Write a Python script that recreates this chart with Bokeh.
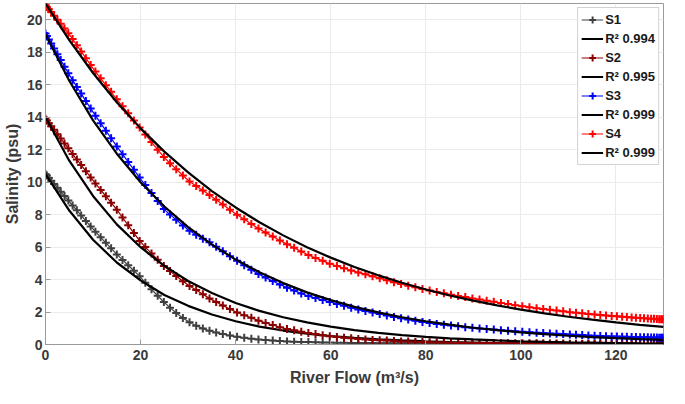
from bokeh.plotting import figure
from bokeh.models import Legend, LegendItem, Range1d, FixedTicker
from bokeh.embed import file_html
from bokeh.resources import INLINE

# ---------------- data ----------------
flow = [0, 0.3, 0.7, 1.2, 1.8, 2.5, 3.2, 4.0, 4.8, 5.7,
        6.6, 7.5, 8.5, 9.5, 10.5, 11.6, 12.7, 13.8, 15.0, 16.2,
        17.4, 18.6, 19.8, 21.0, 22.3, 23.6, 24.9, 26.2, 27.5, 28.9,
        30.3, 31.7, 33.1, 34.5, 35.9, 37.3, 38.8, 40.3, 41.8, 43.3,
        44.8, 46.3, 47.8, 49.3, 50.8, 52.3, 53.8, 55.3, 56.8, 58.3,
        59.8, 61.3, 62.8, 64.3, 65.8, 67.3, 68.8, 70.3, 71.8, 73.3,
        74.8, 76.3, 77.8, 79.3, 80.8, 82.3, 83.8, 85.3, 86.8, 88.3,
        89.8, 91.3, 92.8, 94.3, 95.8, 97.3, 98.8, 100.3, 101.8, 103.3,
        104.7, 106.1, 107.5, 108.9, 110.3, 111.6, 112.9, 114.2, 115.5, 116.7,
        117.9, 119.1, 120.2, 121.3, 122.3, 123.3, 124.2, 125.1, 125.9, 126.7,
        127.4, 128.0, 128.6, 129.1, 129.5, 129.8, 130.0]

s1 = [10.5, 10.4, 10.26, 10.09, 9.89, 9.65, 9.41, 9.14, 8.87, 8.56,
      8.26, 7.95, 7.61, 7.27, 6.95, 6.6, 6.26, 5.92, 5.55, 5.21,
      4.88, 4.54, 4.21, 3.8, 3.4, 3.0, 2.62, 2.27, 1.94, 1.63,
      1.37, 1.16, 0.98, 0.84, 0.74, 0.64, 0.55, 0.47, 0.41, 0.36,
      0.31, 0.27, 0.24, 0.21, 0.19, 0.17, 0.16, 0.15, 0.14, 0.13,
      0.12, 0.11, 0.11, 0.1, 0.1, 0.09, 0.09, 0.08, 0.08, 0.08,
      0.07, 0.07, 0.07, 0.06, 0.06, 0.06, 0.06, 0.05, 0.05, 0.05,
      0.05, 0.05, 0.05, 0.04, 0.04, 0.04, 0.04, 0.04, 0.04, 0.04,
      0.04, 0.04, 0.03, 0.03, 0.03, 0.03, 0.03, 0.03, 0.03, 0.03,
      0.03, 0.03, 0.03, 0.02, 0.02, 0.02, 0.02, 0.02, 0.02, 0.02,
      0.02, 0.02, 0.02, 0.02, 0.02, 0.02, 0.02]

s2 = [13.9, 13.79, 13.63, 13.44, 13.22, 12.95, 12.68, 12.38, 12.08, 11.73,
      11.39, 11.05, 10.67, 10.29, 9.92, 9.52, 9.13, 8.73, 8.3, 7.82,
      7.34, 6.86, 6.38, 6.0, 5.61, 5.22, 4.83, 4.52, 4.22, 3.9,
      3.6, 3.35, 3.09, 2.84, 2.62, 2.4, 2.18, 1.97, 1.8, 1.64,
      1.47, 1.33, 1.2, 1.06, 0.96, 0.87, 0.79, 0.71, 0.64, 0.57,
      0.51, 0.46, 0.42, 0.38, 0.34, 0.31, 0.28, 0.26, 0.24, 0.21,
      0.19, 0.18, 0.16, 0.15, 0.14, 0.13, 0.12, 0.11, 0.1, 0.1,
      0.09, 0.09, 0.09, 0.08, 0.08, 0.08, 0.07, 0.07, 0.07, 0.07,
      0.06, 0.06, 0.06, 0.06, 0.05, 0.05, 0.05, 0.05, 0.05, 0.05,
      0.04, 0.04, 0.04, 0.04, 0.04, 0.04, 0.04, 0.03, 0.03, 0.03,
      0.03, 0.03, 0.03, 0.03, 0.03, 0.03, 0.03]

s3 = [19.15, 19.0, 18.79, 18.54, 18.23, 17.88, 17.52, 17.11, 16.7, 16.28,
      15.86, 15.45, 14.99, 14.53, 14.09, 13.63, 13.17, 12.7, 12.2, 11.72,
      11.24, 10.76, 10.28, 9.82, 9.33, 8.83, 8.34, 8.0, 7.68, 7.33,
      7.0, 6.76, 6.52, 6.29, 6.02, 5.74, 5.44, 5.15, 4.88, 4.61,
      4.34, 4.12, 3.91, 3.7, 3.5, 3.32, 3.14, 2.98, 2.86, 2.74,
      2.62, 2.5, 2.38, 2.26, 2.15, 2.06, 1.97, 1.88, 1.79, 1.7,
      1.61, 1.54, 1.46, 1.39, 1.32, 1.27, 1.22, 1.17, 1.12, 1.07,
      1.03, 0.99, 0.95, 0.92, 0.88, 0.85, 0.82, 0.78, 0.76, 0.73,
      0.71, 0.68, 0.66, 0.64, 0.62, 0.6, 0.58, 0.56, 0.54, 0.53,
      0.51, 0.5, 0.49, 0.48, 0.47, 0.46, 0.46, 0.45, 0.44, 0.44,
      0.43, 0.43, 0.43, 0.42, 0.42, 0.42, 0.42]

s4 = [20.9, 20.79, 20.65, 20.47, 20.25, 20.0, 19.75, 19.46, 19.17, 18.81,
      18.43, 18.05, 17.63, 17.21, 16.81, 16.39, 15.97, 15.56, 15.1, 14.67,
      14.24, 13.8, 13.37, 12.94, 12.47, 12.0, 11.54, 11.16, 10.8, 10.41,
      10.04, 9.76, 9.48, 9.2, 8.91, 8.62, 8.3, 7.99, 7.71, 7.42,
      7.14, 6.89, 6.65, 6.41, 6.18, 5.96, 5.73, 5.51, 5.33, 5.15,
      4.97, 4.83, 4.7, 4.56, 4.44, 4.32, 4.2, 4.08, 3.96, 3.84,
      3.72, 3.62, 3.52, 3.42, 3.33, 3.24, 3.15, 3.07, 2.99, 2.92,
      2.84, 2.77, 2.7, 2.63, 2.56, 2.49, 2.42, 2.36, 2.3, 2.24,
      2.19, 2.14, 2.09, 2.04, 1.99, 1.96, 1.92, 1.88, 1.85, 1.82,
      1.79, 1.76, 1.74, 1.71, 1.69, 1.67, 1.65, 1.63, 1.62, 1.6,
      1.59, 1.58, 1.57, 1.56, 1.56, 1.55, 1.55]

fit_flow = [0, 5, 10, 15, 20, 25, 30, 35, 40, 45, 50, 55, 60, 65,
            70, 75, 80, 85, 90, 95, 100, 105, 110, 115, 120, 125, 130]
fit1 = [10.5, 8.25, 6.45, 5.05, 3.95, 3.05, 2.38, 1.85, 1.43, 1.1, 0.86, 0.67, 0.52, 0.41,
        0.32, 0.25, 0.19, 0.15, 0.12, 0.09, 0.07, 0.055, 0.043, 0.033, 0.026, 0.02, 0.016]
fit2 = [14.0, 11.32, 9.15, 7.4, 5.99, 4.84, 3.91, 3.17, 2.56, 2.07, 1.68, 1.36, 1.1, 0.89,
        0.72, 0.58, 0.47, 0.38, 0.31, 0.25, 0.2, 0.16, 0.13, 0.11, 0.09, 0.07, 0.06]
fit3 = [19.1, 16.24, 13.8, 11.75, 9.99, 8.5, 7.23, 6.15, 5.23, 4.45, 3.78, 3.21, 2.73, 2.32,
        1.98, 1.68, 1.43, 1.22, 1.03, 0.88, 0.75, 0.64, 0.54, 0.46, 0.39, 0.33, 0.28]
fit4 = [21.0, 18.74, 16.72, 14.92, 13.31, 11.88, 10.6, 9.45, 8.44, 7.53, 6.72, 5.99, 5.35, 4.77,
        4.26, 3.8, 3.39, 3.02, 2.7, 2.41, 2.15, 1.92, 1.71, 1.53, 1.36, 1.21, 1.08]

series_names = ["S1", "S2", "S3", "S4"]
r2_labels = ["R\u00b2 0.994", "R\u00b2 0.995", "R\u00b2 0.999", "R\u00b2 0.999"]
series_colors = ["#404040", "#8b0000", "#0000ff", "#ff0000"]

x_ticks = [0, 20, 40, 60, 80, 100, 120]
y_ticks = [0, 2, 4, 6, 8, 10, 12, 14, 16, 18, 20]

# ---------------- figure ----------------
FONT = "Liberation Sans"
AX = "#9a9a9a"
TXT = "#3a3a3a"

p = figure(width=669, height=388, output_backend="svg", toolbar_location=None,
           x_range=Range1d(0, 130), y_range=Range1d(0, 21),
           min_border_left=30, min_border_right=6, min_border_top=3, min_border_bottom=40)
p.background_fill_color = "white"
p.border_fill_color = "white"
p.outline_line_color = AX
p.outline_line_width = 1

for ax in (p.xaxis[0], p.yaxis[0]):
    ax.axis_line_color = AX
    ax.major_tick_line_color = AX
    ax.major_tick_in = 5
    ax.major_tick_out = 0
    ax.minor_tick_line_color = None
    ax.major_label_text_font = FONT
    ax.major_label_text_font_style = "bold"
    ax.major_label_text_font_size = "14px"
    ax.major_label_text_color = TXT
    ax.axis_label_text_font = FONT
    ax.axis_label_text_font_style = "bold"
    ax.axis_label_text_font_size = "16px"
    ax.axis_label_text_color = TXT

p.xaxis[0].ticker = FixedTicker(ticks=x_ticks)
p.yaxis[0].ticker = FixedTicker(ticks=y_ticks)
p.xaxis[0].axis_label = "River Flow (m\u00b3/s)"
p.yaxis[0].axis_label = "Salinity (psu)"
p.xaxis[0].major_label_standoff = 5
p.yaxis[0].major_label_standoff = 3
p.xaxis[0].axis_label_standoff = 6
p.yaxis[0].axis_label_standoff = 3

p.xgrid.ticker = FixedTicker(ticks=x_ticks)
p.ygrid.ticker = FixedTicker(ticks=y_ticks)
p.xgrid.grid_line_color = "#ebebeb"
p.ygrid.grid_line_color = "#ebebeb"

data_sets = [s1, s2, s3, s4]
fit_sets = [fit1, fit2, fit3, fit4]
items = []
for name, r2, col, ys, fys in zip(series_names, r2_labels, series_colors, data_sets, fit_sets):
    ln = p.line(flow, ys, line_color=col, line_width=1.2)
    sc = p.scatter(flow, ys, marker="cross", size=8, line_color=col, line_width=2.0)
    ft = p.line(fit_flow, fys, line_color="black", line_width=2.2)
    items.append(LegendItem(label=name, renderers=[ln, sc]))
    items.append(LegendItem(label=r2, renderers=[ft]))

legend = Legend(items=items, location="top_right")
legend.label_text_font = FONT
legend.label_text_font_style = "bold"
legend.label_text_font_size = "13px"
legend.label_text_color = "#1a1a1a"
legend.glyph_width = 22
legend.glyph_height = 17
legend.label_height = 17
legend.spacing = 2
legend.padding = 3
legend.margin = 4
legend.label_standoff = 2
legend.border_line_color = "#a6a6a6"
legend.border_line_width = 1
legend.background_fill_alpha = 1.0
p.add_layout(legend)

open("out.html", "w").write(file_html(p, INLINE))
